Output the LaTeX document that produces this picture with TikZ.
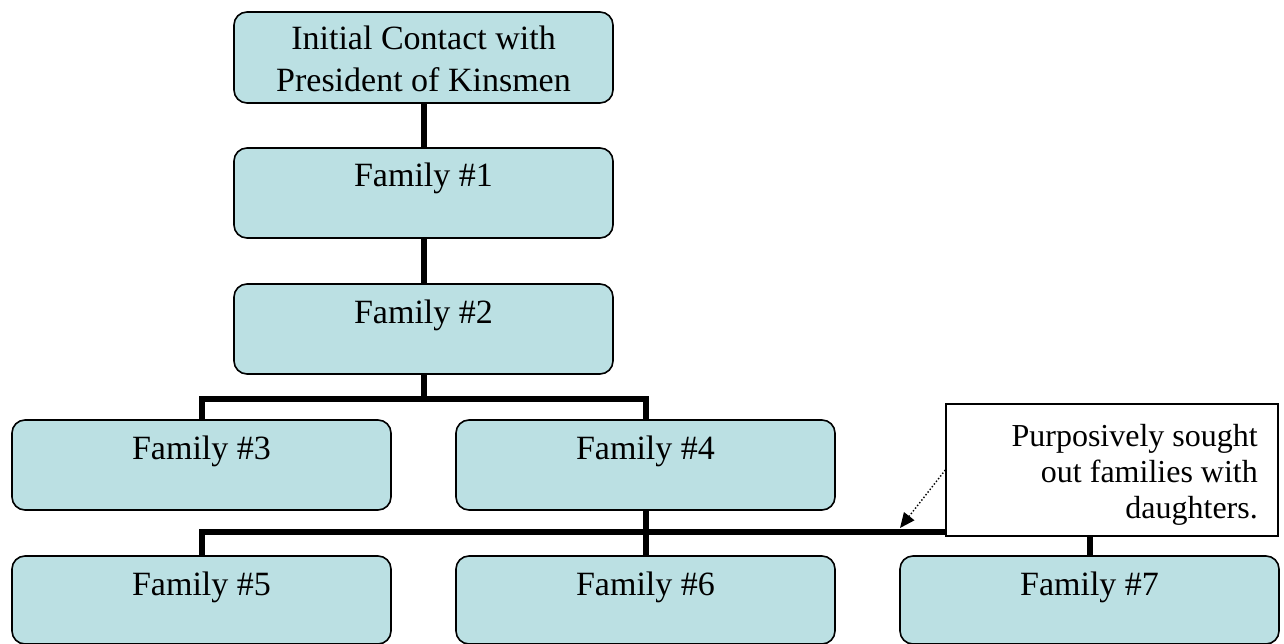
\documentclass[tikz,border=0pt]{standalone}
\usepackage{fontspec}
\setmainfont{Liberation Serif}
\usetikzlibrary{arrows.meta}
\definecolor{boxfill}{HTML}{BBE0E3}
\tikzset{
  box/.style={draw=black, line width=1.6pt, fill=boxfill, rounded corners=13pt,
    minimum width=379pt, inner sep=0pt},
  txt/.style={font=\fontsize{34}{42}\selectfont, inner sep=0pt, align=center},
  ntxt/.style={font=\fontsize{32}{36}\selectfont, inner sep=0pt, align=right},
  conn/.style={line width=6pt, line join=miter, draw=black},
  note/.style={draw=black, line width=1.4pt, fill=white, minimum width=332pt, minimum height=132pt, inner sep=0pt},
  ptr/.style={dotted, line width=1.4pt, -{Triangle[length=15pt,width=13pt]}}
}
\begin{document}
\begin{tikzpicture}[x=1pt,y=-1pt]
\useasboundingbox (0,0) rectangle (1284,644);
% boxes
\node[box, minimum height=91pt] (top) at (423.5,57.5) {};
\node[box, minimum height=90pt] (f1) at (423.5,193) {};
\node[box, minimum height=90pt] (f2) at (423.5,329) {};
\node[box, minimum height=90pt] (f3) at (201.5,465) {};
\node[box, minimum height=90pt] (f4) at (645.5,465) {};
\node[box, minimum height=88pt] (f5) at (201.5,600) {};
\node[box, minimum height=88pt] (f6) at (645.5,600) {};
\node[box, minimum height=88pt] (f7) at (1089.5,600) {};
% connectors
\draw[conn] (top.south) -- (f1.north);
\draw[conn] (f1.south) -- (f2.north);
\draw[conn] (f2.south) -- ++(0,24) -| (f3.north);
\draw[conn] (f2.south) -- ++(0,24) -| (f4.north);
\draw[conn] (f4.south) -- (f6.north);
\draw[conn] (f5.north) -- ++(0,-23) -| (f7.north);
% texts
\node[txt, anchor=base] (ttop) at (423.5,92) {Initial Contact with\\President of Kinsmen};
\node[txt, anchor=base] (t1) at (423.5,187) {Family \#1};
\node[txt, anchor=base] (t2) at (423.5,323) {Family \#2};
\node[txt, anchor=base] (t3) at (201.5,459) {Family \#3};
\node[txt, anchor=base] (t4) at (645.5,459) {Family \#4};
\node[txt, anchor=base] (t5) at (201.5,595) {Family \#5};
\node[txt, anchor=base] (t6) at (645.5,595) {Family \#6};
\node[txt, anchor=base] (t7) at (1089.5,595) {Family \#7};
% callout
\node[note] (nb) at (1112,470) {};
\node[ntxt, anchor=base east] (nt) at (1258,518) {Purposively sought\\out families with\\daughters.};
\coordinate (tip) at (900,528);
\draw[ptr] (nb.west) -- (tip);
\end{tikzpicture}
\end{document}
